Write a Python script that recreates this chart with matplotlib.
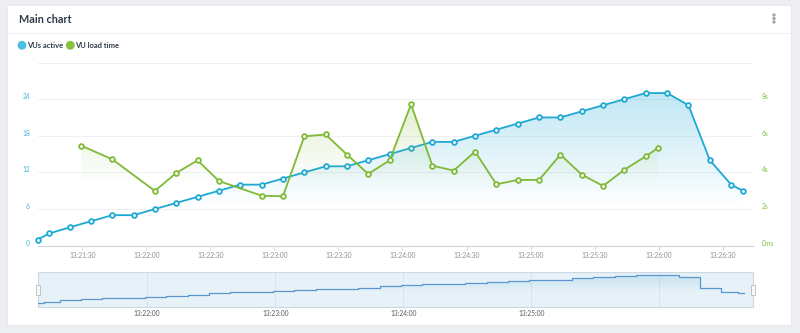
import numpy as np
import matplotlib.pyplot as plt
import matplotlib.transforms as mtransforms
from matplotlib.patches import Rectangle, Circle

plt.rcParams['font.family'] = ['Lato', 'DejaVu Sans']

# time axis: seconds after 13:21:00
vu_time = [9, 14.5, 24, 34, 44, 54, 64, 74, 84, 94, 104, 114, 124, 134, 144, 154, 164, 174,
           184, 194, 204, 214, 224, 234, 244, 254, 264, 274, 284, 294, 304, 314, 324, 334, 339.5]
vu_active = [1, 2, 3, 4, 5, 5, 6, 7, 8, 9, 10, 10, 11, 12, 13, 13, 14, 15,
             16, 17, 17, 18, 19, 20, 21, 21, 22, 23, 24, 25, 25, 23, 14, 10, 9]

load_time_t = [29.5, 44, 64, 74, 84, 94, 114, 124, 134, 144, 154, 164, 174,
               184, 194, 204, 214, 224, 234, 244, 254, 264, 274, 284, 294, 299.5]
load_time_s = [5.46, 4.72, 2.99, 3.97, 4.66, 3.53, 2.73, 2.70, 5.97, 6.07, 4.97, 3.92, 4.66,
               7.72, 4.37, 4.10, 5.14, 3.35, 3.59, 3.59, 4.97, 3.88, 3.26, 4.15, 4.88, 5.32]

main_ticks = [30, 60, 90, 120, 150, 180, 210, 240, 270, 300, 330]
main_tick_labels = ["13:21:30", "13:22:00", "13:22:30", "13:23:00", "13:23:30", "13:24:00",
                    "13:24:30", "13:25:00", "13:25:30", "13:26:00", "13:26:30"]
nav_ticks = [60, 120, 180, 240]
nav_tick_labels = ["13:22:00", "13:23:00", "13:24:00", "13:25:00"]
nav_grid = [60, 120, 180, 240, 300]

left_ticks = [0, 6, 12, 18, 24, 30]
left_labels = ["0", "6", "12", "18", "24", ""]
right_ticks = [0, 2, 4, 6, 8, 10]
right_labels = ["0ms", "2s", "4s", "6s", "8s", ""]

BLUE = "#1ea9d5"
GREEN = "#7fb935"
XLIM = (9, 344)


def gradient_fill(ax, x, y, rgb, a_top, y_top, y_bot, ylim, step=None, z=1):
    coll = ax.fill_between(x, y, ylim[0], step=step, facecolor="none", edgecolor="none")
    h = 300
    ys = np.linspace(ylim[0], ylim[1], h)
    img = np.zeros((h, 1, 4))
    img[..., :3] = rgb
    img[:, 0, 3] = np.clip((ys - y_bot) / (y_top - y_bot), 0, 1) * a_top
    im = ax.imshow(img, extent=[XLIM[0], XLIM[1], ylim[0], ylim[1]], origin="lower",
                   aspect="auto", interpolation="bilinear", zorder=z)
    im.set_clip_path(coll.get_paths()[0], ax.transData)


fig = plt.figure(figsize=(8, 3.33), dpi=100, facecolor="#eceef2")

# background card
bg = fig.add_axes([0, 0, 1, 1], zorder=-1)
bg.set_xlim(0, 800)
bg.set_ylim(333, 0)
bg.axis("off")
bg.add_patch(Rectangle((7, 5), 784, 320, facecolor="white", edgecolor="#e3e6eb", lw=0.6))
bg.plot([7, 791], [33, 33], color="#eef0f3", lw=0.8)
bg.text(19, 19.5, "Main chart", fontsize=7.8, fontweight="bold", color="#2e3a48", va="center")
for yy in [15, 18.5, 22]:
    bg.add_patch(Circle((774, yy), 1.0, color="#a4a8ae"))
bg.add_patch(Circle((22, 45.3), 3.7, color="#4cc0e4"))
bg.text(27.5, 45.5, "VUs active", fontsize=5.4, fontweight="bold", color="#2e3a48", va="center")
bg.add_patch(Circle((70.3, 45.3), 3.7, color="#86c040"))
bg.text(75.5, 45.5, "VU load time", fontsize=5.4, fontweight="bold", color="#2e3a48", va="center")

# main chart
ax = fig.add_axes([37.5 / 800, 1 - 245.7 / 333, 715 / 800, 183.2 / 333], zorder=1)
ax.set_facecolor("none")
gradient_fill(ax, vu_time, vu_active, (0.12, 0.66, 0.84), 0.28, 25, 6, (0, 30))
ax.plot(vu_time, vu_active, color=BLUE, lw=1.3, marker="o", ms=3.4, mew=1.3,
        mfc="white", mec=BLUE, zorder=3, clip_on=False)
ax.set_xlim(*XLIM)
ax.set_ylim(0, 30)
ax.set_yticks(left_ticks, left_labels)
ax.set_xticks(main_ticks, main_tick_labels)
ax.grid(axis="y", color="#eef0f2", lw=0.7)
ax.set_axisbelow(True)
for s in ["top", "left", "right"]:
    ax.spines[s].set_visible(False)
ax.spines["bottom"].set_color("#cfd5dc")
ax.spines["bottom"].set_linewidth(0.8)
ax.tick_params(axis="x", length=3, width=0.6, color="#cfd5dc", labelsize=4.8,
               labelcolor="#8b9097", pad=1.5)
ax.tick_params(axis="y", length=0, labelsize=4.8, labelcolor="#45b5dc", pad=5.4)

ax2 = ax.twinx()
ax2.set_facecolor("none")
gradient_fill(ax2, load_time_t, load_time_s, (0.50, 0.73, 0.21), 0.22, 7.7, 3.3, (0, 10))
ax2.plot(load_time_t, load_time_s, color=GREEN, lw=1.3, marker="o", ms=3.4, mew=1.3,
         mfc="white", mec=GREEN, zorder=3, clip_on=False)
ax2.set_xlim(*XLIM)
ax2.set_ylim(0, 10)
ax2.set_yticks(right_ticks, right_labels)
for s in ["top", "left", "right", "bottom"]:
    ax2.spines[s].set_visible(False)
ax2.tick_params(axis="y", length=0, labelsize=4.8, labelcolor="#86bd45", pad=6.8)

offset = mtransforms.ScaledTranslation(0, 0.03, fig.dpi_scale_trans)
for lab in ax.get_yticklabels() + ax2.get_yticklabels():
    lab.set_transform(lab.get_transform() + offset)

# navigator
nav = fig.add_axes([38.3 / 800, 1 - 306.7 / 333, 715 / 800, 34.4 / 333], zorder=1)
nav.set_facecolor("#e6f2f8")
for t in nav_grid:
    nav.axvline(t, color="#d3e2ea", lw=0.6, zorder=0)
gradient_fill(nav, vu_time, vu_active, (0.35, 0.68, 0.85), 0.22, 25, 10, (-2.5, 27.3),
              step="mid")
nav.plot(vu_time, vu_active, color="#5b96d0", lw=0.9, drawstyle="steps-mid", zorder=3)
nav.set_xlim(*XLIM)
nav.set_ylim(-2.5, 27.3)
nav.set_yticks([])
nav.set_xticks(nav_ticks, nav_tick_labels)
nav.tick_params(axis="x", length=0, labelsize=4.8, labelcolor="#555b63", pad=2.5)
for s in nav.spines.values():
    s.set_color("#cdd8e0")
    s.set_linewidth(0.8)

# navigator handles
fg = fig.add_axes([0, 0, 1, 1], zorder=5)
fg.set_xlim(0, 800)
fg.set_ylim(333, 0)
fg.axis("off")
fg.patch.set_visible(False)
for hx in [36.3, 751.4]:
    fg.add_patch(Rectangle((hx, 284.5), 4, 10, facecolor="#f6f7f8", edgecolor="#a9b0b8", lw=0.5))

fig.savefig("out.png", dpi=100, facecolor=fig.get_facecolor())
